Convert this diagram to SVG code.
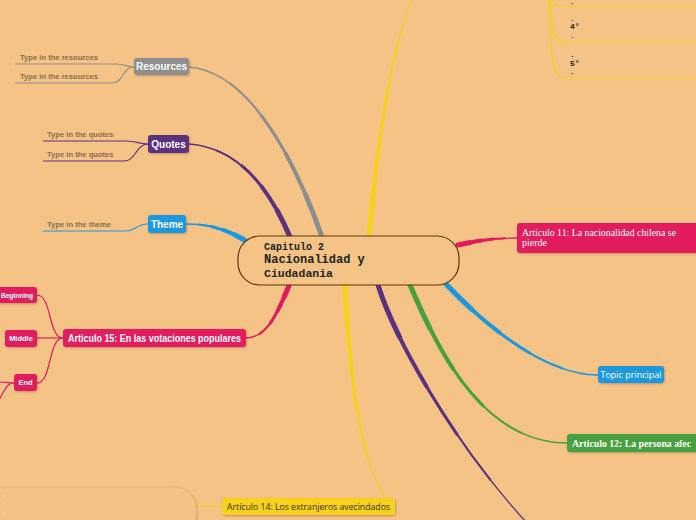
<svg xmlns="http://www.w3.org/2000/svg" xmlns:xlink="http://www.w3.org/1999/xlink" width="696" height="520" viewBox="0 0 696 520">
<style>
.bg{fill:#F6C387}
.t5{fill:none;stroke-width:5;stroke-dasharray:20 200;stroke-linecap:round}
.t4{fill:none;stroke-width:4;stroke-dasharray:40 200;stroke-linecap:round}
.t3{fill:none;stroke-width:3;stroke-dasharray:60 200;stroke-linecap:round}
.t2{fill:none;stroke-width:2;stroke-dasharray:80 200;stroke-linecap:round}
.t1{fill:none;stroke-width:1.3}
.thin{fill:none;stroke-width:1.2}
.gray{stroke:#8e8e8e}
.purple{stroke:#5b3380}
.blue{stroke:#1b98e0}
.crimson{stroke:#e31b5f}
.yellow{stroke:#f7d11a}
.green{stroke:#4aa03f}
.node{filter:url(#sh)}
.lbl{font-family:"Liberation Sans",Arial,sans-serif;font-weight:bold;fill:#fff}
.sub{font-family:"Liberation Sans",Arial,sans-serif;font-weight:bold;font-size:7.6px;fill:#8a6d4a}
.mono{font-family:"Liberation Mono","Courier New",monospace;font-weight:bold;fill:#222}
</style>
<defs>
<filter id="sh" x="-20%" y="-30%" width="140%" height="170%">
<feDropShadow dx="0.8" dy="1" stdDeviation="0.8" flood-color="#000" flood-opacity="0.25"/>
</filter>
<path id="pGray" pathLength="100" d="M322,237 C295,160 250,72 189,67"/>
<path id="pQuotes" pathLength="100" d="M290,237 C270,190 240,148 189,144"/>
<path id="pTheme" pathLength="100" d="M246,241 C226,229 210,224 186,224"/>
<path id="pArt15" pathLength="100" d="M290,283 C275,320 265,338 245,338"/>
<path id="pYup" pathLength="100" d="M369,237 C376,160 388,60 412,-2"/>
<path id="pArt11" pathLength="100" d="M458,245 C480,240 495,238 517,238"/>
<path id="pTopic" pathLength="100" d="M446,284 C475,315 540,375 598,375"/>
<path id="pArt12" pathLength="100" d="M410,285 C430,330 475,443 567,443"/>
<path id="pPdown" pathLength="100" d="M378,285 C395,340 455,445 527,523"/>
<path id="pYdown" pathLength="100" d="M345,285 C350,380 360,460 386,498"/>
</defs>
<rect class="bg" x="0" y="0" width="696" height="520"/>

<g id="connectors">
<g class="gray"><use xlink:href="#pGray" class="t5"/><use xlink:href="#pGray" class="t4"/><use xlink:href="#pGray" class="t3"/><use xlink:href="#pGray" class="t2"/><use xlink:href="#pGray" class="t1"/></g>
<g class="purple"><use xlink:href="#pQuotes" class="t5"/><use xlink:href="#pQuotes" class="t4"/><use xlink:href="#pQuotes" class="t3"/><use xlink:href="#pQuotes" class="t2"/><use xlink:href="#pQuotes" class="t1"/></g>
<g class="blue"><use xlink:href="#pTheme" class="t5"/><use xlink:href="#pTheme" class="t4"/><use xlink:href="#pTheme" class="t3"/><use xlink:href="#pTheme" class="t2"/><use xlink:href="#pTheme" class="t1"/></g>
<g class="crimson"><use xlink:href="#pArt15" class="t5"/><use xlink:href="#pArt15" class="t4"/><use xlink:href="#pArt15" class="t3"/><use xlink:href="#pArt15" class="t2"/><use xlink:href="#pArt15" class="t1"/></g>
<g class="yellow"><use xlink:href="#pYup" class="t5"/><use xlink:href="#pYup" class="t4"/><use xlink:href="#pYup" class="t3"/><use xlink:href="#pYup" class="t2"/><use xlink:href="#pYup" class="t1"/></g>
<g class="crimson"><use xlink:href="#pArt11" class="t5"/><use xlink:href="#pArt11" class="t4"/><use xlink:href="#pArt11" class="t3"/><use xlink:href="#pArt11" class="t2"/><use xlink:href="#pArt11" class="t1"/></g>
<g class="blue"><use xlink:href="#pTopic" class="t5"/><use xlink:href="#pTopic" class="t4"/><use xlink:href="#pTopic" class="t3"/><use xlink:href="#pTopic" class="t2"/><use xlink:href="#pTopic" class="t1"/></g>
<g class="green"><use xlink:href="#pArt12" class="t5"/><use xlink:href="#pArt12" class="t4"/><use xlink:href="#pArt12" class="t3"/><use xlink:href="#pArt12" class="t2"/><use xlink:href="#pArt12" class="t1"/></g>
<g class="purple"><use xlink:href="#pPdown" class="t5"/><use xlink:href="#pPdown" class="t4"/><use xlink:href="#pPdown" class="t3"/><use xlink:href="#pPdown" class="t2"/><use xlink:href="#pPdown" class="t1"/></g>
<g class="yellow"><use xlink:href="#pYdown" class="t5"/><use xlink:href="#pYdown" class="t4"/><use xlink:href="#pYdown" class="t3"/><use xlink:href="#pYdown" class="t2"/><use xlink:href="#pYdown" class="t1"/></g>

<path class="thin gray" d="M15,64 H116 C126,64 126,67 134,67"/>
<path class="thin gray" d="M15,83 H112 C124,83 122,67 134,67"/>
<path class="thin purple" d="M43,141 H126 C138,141 138,144 148,144"/>
<path class="thin purple" d="M43,161 H124 C136,161 136,144 148,144"/>
<path class="thin blue" d="M43,231 H126 C136,231 136,224 148,224"/>
<path class="thin crimson" d="M63,338 C48,338 52,295 37,295"/>
<path class="thin crimson" d="M63,338 H37"/>
<path class="thin crimson" d="M63,338 C48,338 52,383 37,383"/>
<path class="thin crimson" d="M14,383 C8,383 4,382 0,382"/>
<path class="thin crimson" d="M14,383 C6,383 4,392 -1,400"/>
<path class="thin yellow" d="M552,-2 C553,4 555,6 562,6 H696"/>
<path class="thin yellow" d="M550,-2 C552,25 552,42 565,42 H696"/>
<path class="thin yellow" d="M549,-2 C551,50 551,78 564,78 H696"/>
<path class="thin yellow" d="M196,506 H222"/>
</g>

<g id="center">
<rect x="238" y="236" width="221" height="49" rx="22" fill="#F6C387" stroke="#5a3510" stroke-width="1.2"/>
<text class="mono" x="264" y="250" font-size="10">Capitulo 2</text>
<text class="mono" x="264" y="263" font-size="12">Nacionalidad y</text>
<text class="mono" x="264" y="277" font-size="11.5">Ciudadania</text>
</g>

<g id="resources">
<rect class="node" x="134" y="58" width="55" height="17" rx="3" fill="#8e8e8e"/>
<text class="lbl" x="161.5" y="70" font-size="10" text-anchor="middle">Resources</text>
</g>
<g id="res1"><text class="sub" x="20" y="60">Type in the resources</text></g>
<g id="res2"><text class="sub" x="20" y="79">Type in the resources</text></g>

<g id="quotes">
<rect class="node" x="148" y="135" width="41" height="18" rx="3" fill="#5b3380"/>
<text class="lbl" x="168.5" y="147.5" font-size="10" text-anchor="middle">Quotes</text>
</g>
<g id="q1"><text class="sub" x="47" y="137">Type in the quotes</text></g>
<g id="q2"><text class="sub" x="47" y="157">Type in the quotes</text></g>

<g id="theme">
<rect class="node" x="148" y="215" width="38" height="18" rx="3" fill="#1b98e0"/>
<text class="lbl" x="167" y="227.5" font-size="10" text-anchor="middle">Theme</text>
</g>
<g id="th1"><text class="sub" x="47" y="227">Type in the theme</text></g>

<g id="art15">
<rect class="node" x="63" y="329" width="183" height="18" rx="3" fill="#e31b5f"/>
<text class="lbl" x="68" y="342" font-size="10" textLength="173" lengthAdjust="spacingAndGlyphs">Articulo 15: En las votaciones populares</text>
</g>
<g id="beginning">
<rect class="node" x="-8" y="287" width="45" height="16" rx="3" fill="#e31b5f"/>
<text class="lbl" x="1" y="297.5" font-size="7.5" textLength="32" lengthAdjust="spacingAndGlyphs">Beginning</text>
</g>
<g id="middle">
<rect class="node" x="5" y="330" width="32" height="17" rx="3" fill="#e31b5f"/>
<text class="lbl" x="21" y="341" font-size="7.5" text-anchor="middle">Middle</text>
</g>
<g id="end">
<rect class="node" x="14" y="374" width="23" height="17" rx="3" fill="#e31b5f"/>
<text class="lbl" x="25.5" y="385" font-size="7.5" text-anchor="middle">End</text>
</g>

<g id="art11">
<rect class="node" x="517" y="223" width="185" height="30" rx="3" fill="#e31b5f"/>
<text x="522" y="236" font-family="'Liberation Serif','Times New Roman',serif" font-size="10" fill="#fff" textLength="154" lengthAdjust="spacingAndGlyphs">Artículo 11: La nacionalidad chilena se</text>
<text x="522" y="246" font-family="'Liberation Serif','Times New Roman',serif" font-size="10" fill="#fff">pierde</text>
</g>

<g id="topic">
<rect class="node" x="598" y="366" width="66" height="17" rx="3" fill="#1b98e0"/>
<text x="631" y="378" font-family="'Open Sans','Liberation Sans',sans-serif" font-size="9" fill="#fff" text-anchor="middle">Topic principal</text>
</g>

<g id="art12">
<rect class="node" x="567" y="434" width="135" height="18" rx="3" fill="#4aa03f"/>
<text x="572" y="447" font-family="'Liberation Serif','Times New Roman',serif" font-weight="bold" font-size="10.5" fill="#fff" textLength="119" lengthAdjust="spacingAndGlyphs">Articulo 12: La persona afec</text>
</g>

<g id="art14">
<rect class="node" x="222" y="498" width="173" height="17" rx="3" fill="#f7d11a"/>
<text x="227" y="510" font-family="'Open Sans','Liberation Sans',sans-serif" font-size="9" fill="#3a3000" textLength="163" lengthAdjust="spacingAndGlyphs">Artículo 14: Los extranjeros avecindados</text>
</g>
<g id="art14child">
<rect x="-30" y="487" width="226" height="50" rx="22" fill="#F5C285" stroke="#e9b574" stroke-width="1" filter="url(#sh)"/>
<rect x="3.5" y="495.5" width="1.2" height="1.2" fill="#fff"/>
<rect x="3.5" y="503.5" width="1.2" height="1.2" fill="#fff"/>
<rect x="3.5" y="512.5" width="1.2" height="1.2" fill="#fff"/>
</g>

<g id="item3">
<text class="mono" x="570" y="4" font-size="8">.</text>
</g>
<g id="item4">
<text class="mono" x="570" y="21" font-size="8">.</text>
<text class="mono" x="570" y="29" font-size="8">4°</text>
<text class="mono" x="570" y="38" font-size="8">.</text>
</g>
<g id="item5">
<text class="mono" x="570" y="57" font-size="8">.</text>
<text class="mono" x="570" y="66" font-size="8">5°</text>
<text class="mono" x="570" y="74" font-size="8">.</text>
</g>
</svg>
